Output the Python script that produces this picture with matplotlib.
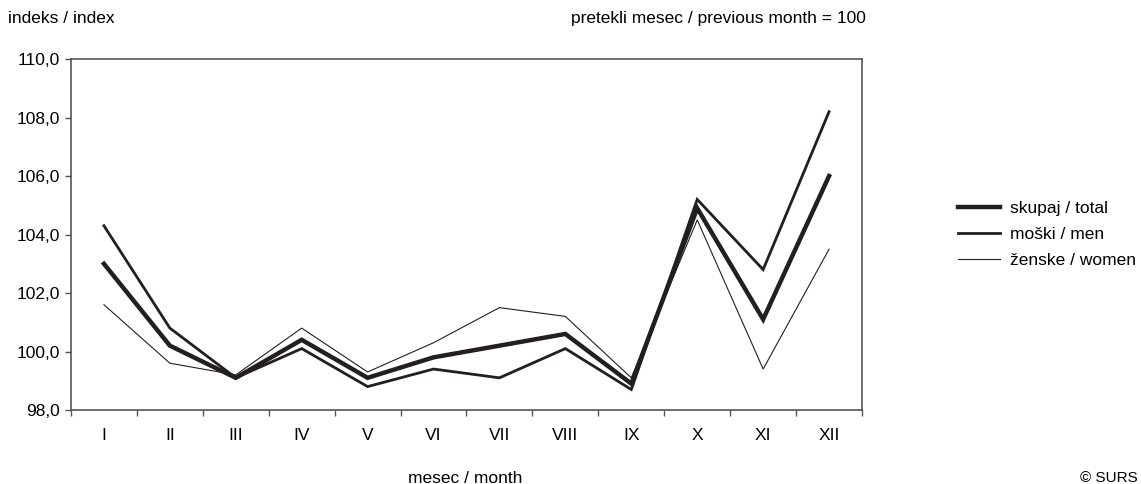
import matplotlib
matplotlib.use("Agg")
import matplotlib.pyplot as plt
from matplotlib.ticker import FixedLocator, FuncFormatter

plt.rcParams['font.family'] = ['Liberation Sans Narrow', 'Liberation Sans', 'DejaVu Sans']

months = ['I', 'II', 'III', 'IV', 'V', 'VI', 'VII', 'VIII', 'IX', 'X', 'XI', 'XII']
total = [103.0, 100.2, 99.1, 100.4, 99.1, 99.8, 100.2, 100.6, 98.9, 104.9, 101.1, 106.0]
men = [104.3, 100.8, 99.1, 100.1, 98.8, 99.4, 99.1, 100.1, 98.7, 105.2, 102.8, 108.2]
women = [101.6, 99.6, 99.2, 100.8, 99.3, 100.3, 101.5, 101.2, 99.1, 104.5, 99.4, 103.5]

col = '#231f20'
fs = 12.5
fig = plt.figure(figsize=(11.41, 4.84), dpi=100)
ax = fig.add_axes([0.0622, 0.1529, 0.6933, 0.7251])

x = list(range(len(months)))
ax.plot(x, total, color=col, lw=3.2, label='skupaj / total', solid_joinstyle='miter')
ax.plot(x, men, color=col, lw=2.0, label='moški / men', solid_joinstyle='miter')
ax.plot(x, women, color=col, lw=0.8, label='ženske / women', solid_joinstyle='miter')

ax.set_xlim(-0.5, len(months) - 0.5)
ax.set_ylim(98, 110)
ax.set_yticks([98, 100, 102, 104, 106, 108, 110])
ax.yaxis.set_major_formatter(FuncFormatter(lambda v, p: f'{v:.1f}'.replace('.', ',')))
ax.xaxis.set_major_locator(FixedLocator([i - 0.5 for i in range(len(months) + 1)]))
ax.xaxis.set_minor_locator(FixedLocator(x))
ax.set_xticklabels([])
ax.set_xticklabels(months, minor=True)
ax.tick_params(axis='x', which='major', length=4, width=1, color='#555555', direction='out')
ax.tick_params(axis='x', which='minor', length=0, labelsize=fs, pad=13)
ax.tick_params(axis='y', length=4, width=1, color='#555555', labelsize=fs, pad=4)
for s in ax.spines.values():
    s.set_color('#555555')
    s.set_linewidth(1.2)

leg = fig.legend(loc='upper left', bbox_to_anchor=(0.826, 0.618), frameon=False,
                 fontsize=fs, handlelength=2.4, labelspacing=0.64, handletextpad=0.6)

fig.text(0.007, 0.962, 'indeks / index', fontsize=fs, va='center', ha='left')
fig.text(0.759, 0.962, 'pretekli mesec / previous month = 100', fontsize=fs, va='center', ha='right')
fig.text(0.408, 0.012, 'mesec / month', fontsize=fs, va='center', ha='center')
fig.text(0.997, 0.012, '© SURS', fontsize=11, va='center', ha='right')

fig.savefig('out.png', dpi=100)
